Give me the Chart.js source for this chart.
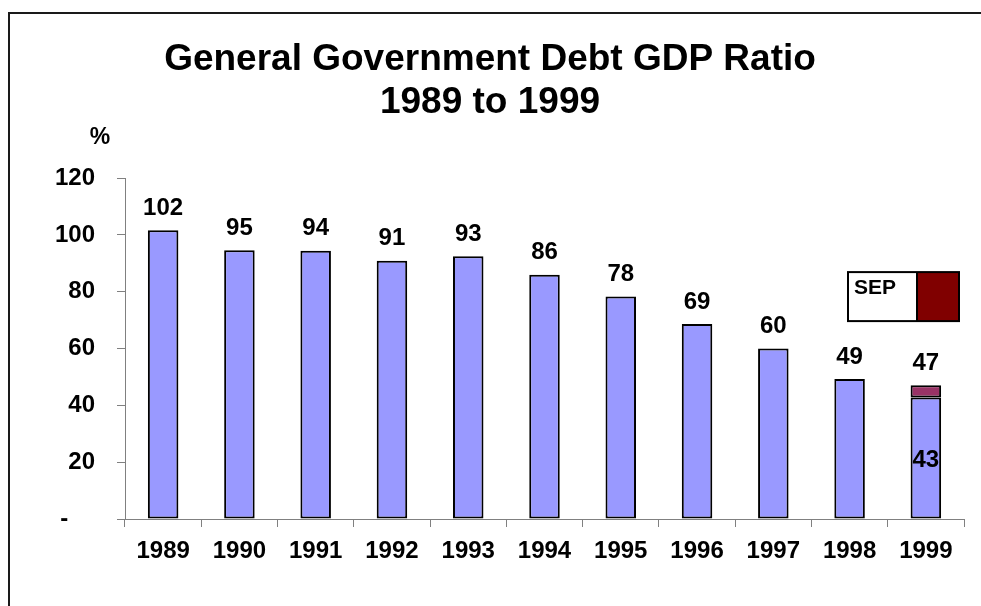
<!DOCTYPE html>
<html>
<head>
<meta charset="utf-8">
<script src="https://cdn.jsdelivr.net/npm/chart.js@4/dist/chart.umd.min.js"></script>
<style>
  html, body { margin: 0; padding: 0; background: #ffffff; }
  #c { display: block; }
</style>
</head>
<body>
<canvas id="c" width="981" height="606"></canvas>
<script>
// ---- data ----
const categories = ['1989','1990','1991','1992','1993','1994','1995','1996','1997','1998','1999'];
const debtRatio  = [101.6, 94.6, 94.4, 90.9, 92.5, 86.0, 78.3, 68.6, 60.0, 49.3, 42.8];
const sepValues  = [null, null, null, null, null, null, null, null, null, null, 4.3];
const yTickValues = [0, 20, 40, 60, 80, 100, 120];
const titleLines = ['General Government Debt GDP Ratio', '1989 to 1999'];

const FONT = "'Liberation Sans', Arial, Helvetica, sans-serif";
Chart.defaults.font.family = FONT;
Chart.defaults.color = '#000000';

const frame = {
  id: 'frame',
  beforeDraw(chart) {
    const ctx = chart.ctx;
    ctx.save();
    ctx.fillStyle = '#ffffff';
    ctx.fillRect(0, 0, chart.width, chart.height);
    ctx.strokeStyle = '#1a1a1a';
    ctx.lineWidth = 2;
    ctx.beginPath();
    ctx.moveTo(9, chart.height);
    ctx.lineTo(9, 13);
    ctx.lineTo(chart.width, 13);
    ctx.stroke();
    ctx.restore();
  }
};

const labelsPlugin = {
  id: 'valueLabels',
  afterDatasetsDraw(chart) {
    const ctx = chart.ctx;
    const y = chart.scales.y;
    const m0 = chart.getDatasetMeta(0);
    ctx.save();
    ctx.font = 'bold 24px ' + FONT;
    ctx.fillStyle = '#000';
    ctx.textAlign = 'center';
    ctx.textBaseline = 'middle';
    categories.forEach((c, i) => {
      const base = debtRatio[i];
      const sep = sepValues[i] || 0;
      const total = base + sep;
      const bar = m0.data[i];
      ctx.fillText(String(Math.round(total)), bar.x, y.getPixelForValue(total) - 22);
      if (sep) {
        ctx.fillText(String(Math.round(base)), bar.x, (bar.y + bar.base) / 2 + 2);
      }
    });
    // "%" unit label
    ctx.font = 'bold 23px ' + FONT;
    ctx.fillText('%', chart.chartArea.left - 25, chart.chartArea.top - 40);
    ctx.restore();
  }
};

const legendBox = {
  id: 'legendBox',
  afterDraw(chart) {
    const ctx = chart.ctx;
    const a = chart.chartArea;
    const x0 = a.right - 116, y0 = a.top + 94, w = 111, h = 49, sw = 42;
    ctx.save();
    ctx.fillStyle = '#ffffff';
    ctx.fillRect(x0, y0, w, h);
    ctx.fillStyle = '#800000';
    ctx.fillRect(x0 + w - sw, y0, sw, h);
    ctx.strokeStyle = '#000';
    ctx.lineWidth = 2;
    ctx.strokeRect(x0, y0, w, h);
    ctx.beginPath();
    ctx.moveTo(x0 + w - sw, y0);
    ctx.lineTo(x0 + w - sw, y0 + h);
    ctx.stroke();
    ctx.fillStyle = '#000';
    ctx.font = 'bold 21px ' + FONT;
    ctx.textAlign = 'left';
    ctx.textBaseline = 'middle';
    ctx.fillText(chart.data.datasets[1].label, x0 + 6, y0 + 16);
    ctx.restore();
  }
};

new Chart(document.getElementById('c'), {
  type: 'bar',
  data: {
    labels: categories,
    datasets: [
      { label: 'Debt', data: debtRatio, backgroundColor: '#9999FF', borderColor: '#000000', borderWidth: 2, borderSkipped: false },
      { label: 'SEP', data: sepValues, backgroundColor: '#993366', borderColor: '#000000', borderWidth: 2, borderSkipped: false }
    ]
  },
  options: {
    responsive: false,
    animation: false,
    devicePixelRatio: 1,
    layout: { padding: { left: 8, right: 9, top: 0, bottom: 0 } },
    datasets: { bar: { barPercentage: 0.4, categoryPercentage: 1.0 } },
    plugins: {
      legend: { display: false },
      tooltip: { enabled: false },
      title: {
        display: true,
        text: titleLines,
        color: '#000',
        font: { family: FONT, size: 37, weight: 'bold', lineHeight: 1.15 },
        padding: { top: 39, bottom: 54 }
      }
    },
    scales: {
      x: {
        stacked: true,
        afterFit(s) { s.height = 87; },
        grid: { display: true, offset: true, drawOnChartArea: false, drawTicks: true, tickLength: 8, color: '#808080' },
        border: { display: true, color: '#808080', width: 1 },
        ticks: { font: { size: 24, weight: 'bold' }, color: '#000', padding: 10, maxRotation: 0 }
      },
      y: {
        stacked: true,
        min: 0, max: 120,
        afterFit(s) { s.width = 117; },
        afterBuildTicks(s) { s.ticks = yTickValues.map(v => ({ value: v })); },
        grid: { display: true, drawOnChartArea: false, drawTicks: true, tickLength: 8, color: '#808080' },
        border: { display: true, color: '#808080', width: 1 },
        ticks: {
          font: { size: 24, weight: 'bold' }, color: '#000', padding: 22,
          callback: v => (v === 0 ? '-    ' : String(v))
        }
      },
      yRight: {
        position: 'right',
        display: true,
        min: 0, max: 120,
        afterFit(s) { s.width = 8; },
        grid: { display: false, drawTicks: false },
        border: { display: false },
        ticks: { display: false }
      }
    }
  },
  plugins: [frame, labelsPlugin, legendBox]
});
</script>
</body>
</html>
